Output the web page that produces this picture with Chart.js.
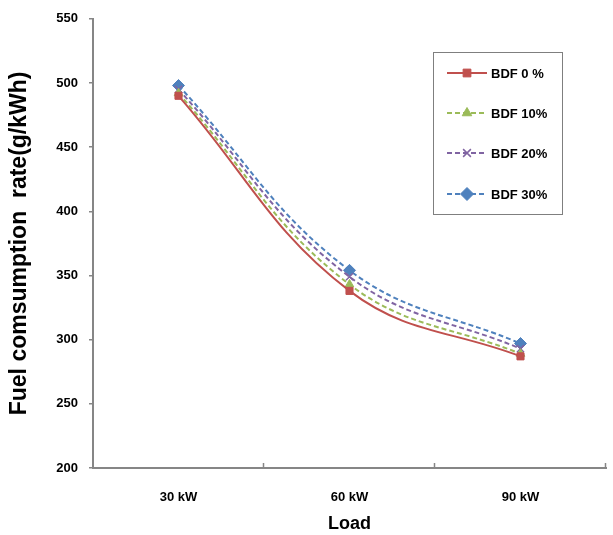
<!DOCTYPE html>
<html>
<head>
<meta charset="utf-8">
<script src="https://cdn.jsdelivr.net/npm/chart.js@4"></script>
<style>
  html, body { margin: 0; padding: 0; background: #fff; }
  #wrap { width: 613px; height: 535px; }
</style>
</head>
<body>
<div id="wrap"><canvas id="fuelChart" width="613" height="535"></canvas></div>
<script>
// Fuel consumption rate vs load for biodiesel blends
const loads = ["30 kW", "60 kW", "90 kW"];
const bdf0 = [490, 338, 287];
const bdf10 = [492, 343, 289];
const bdf20 = [495, 349, 293];
const bdf30 = [498, 354, 297];
const yTicks = [200, 250, 300, 350, 400, 450, 500, 550];

const FONT = "'Liberation Sans', Arial, sans-serif";
const AXIS = "#868686";

function series(label, data, color, style, dashed) {
  return {
    label: label,
    data: data,
    borderColor: color,
    backgroundColor: color,
    borderWidth: 2,
    borderDash: dashed ? [5, 3] : [],
    pointStyle: style,
    pointRadius: style === "rectRot" ? 6 : 5,
    pointBorderWidth: style === "crossRot" ? 1.5 : 1,
    pointBackgroundColor: color,
    pointBorderColor: color,
    tension: 0.4,
    fill: false,
  };
}

// legend box drawn inside plot area, Excel style
const boxLegend = {
  id: "boxLegend",
  afterDatasetsDraw(chart) {
    const ctx = chart.ctx;
    const x0 = 433, y0 = 52, w = 129, h = 162;
    ctx.save();
    ctx.fillStyle = "#fff";
    ctx.fillRect(x0, y0, w, h);
    ctx.strokeStyle = "#7f7f7f";
    ctx.lineWidth = 1;
    ctx.strokeRect(x0 + 0.5, y0 + 0.5, w, h);
    const rows = [73, 113, 153, 194];
    chart.data.datasets.forEach((ds, i) => {
      const y = rows[i];
      ctx.strokeStyle = ds.borderColor;
      ctx.lineWidth = 2;
      ctx.setLineDash(ds.borderDash);
      ctx.beginPath();
      ctx.moveTo(447, y);
      ctx.lineTo(487, y);
      ctx.stroke();
      ctx.setLineDash([]);
      ctx.fillStyle = ds.borderColor;
      ctx.strokeStyle = ds.borderColor;
      ctx.lineWidth = ds.pointBorderWidth;
      Chart.helpers.drawPoint(ctx, {
        pointStyle: ds.pointStyle,
        radius: ds.pointRadius + 0.5,
        rotation: 0,
        borderWidth: ds.pointBorderWidth,
      }, 467, y);
      ctx.fillStyle = "#000";
      ctx.font = "bold 13px " + FONT;
      ctx.textBaseline = "middle";
      ctx.fillText(ds.label, 491, y + 1);
    });
    ctx.restore();
  },
};

// inward tick marks on the category axis at category boundaries
const innerTicks = {
  id: "innerTicks",
  afterDraw(chart) {
    const xs = chart.scales.x;
    const ctx = chart.ctx;
    const step = (xs.right - xs.left) / loads.length;
    ctx.save();
    ctx.strokeStyle = AXIS;
    ctx.lineWidth = 1.5;
    for (let i = 1; i <= loads.length; i++) {
      const px = Math.round(xs.left + step * i) - 0.5;
      ctx.beginPath();
      ctx.moveTo(px, xs.top);
      ctx.lineTo(px, xs.top - 5);
      ctx.stroke();
    }
    ctx.restore();
  },
};

new Chart(document.getElementById("fuelChart"), {
  type: "line",
  data: {
    labels: loads,
    datasets: [
      series("BDF 0 %", bdf0, "#C0504D", "rect", false),
      series("BDF 10%", bdf10, "#9BBB59", "triangle", true),
      series("BDF 20%", bdf20, "#8064A2", "crossRot", true),
      series("BDF 30%", bdf30, "#4F81BD", "rectRot", true),
    ],
  },
  options: {
    responsive: false,
    animation: false,
    layout: { padding: { top: 14, right: 2, left: 6, bottom: 0 } },
    plugins: {
      legend: { display: false },
      tooltip: { enabled: false },
    },
    scales: {
      x: {
        offset: true,
        grid: { display: false },
        border: { color: AXIS, width: 2 },
        ticks: {
          color: "#000",
          font: { family: FONT, size: 13, weight: "bold" },
          padding: 14,
        },
        title: {
          display: true,
          text: "Load",
          color: "#000",
          font: { family: FONT, size: 18, weight: "bold" },
          padding: { top: 6, bottom: 0 },
        },
        afterFit(scale) {
          scale.height = 67;
        },
      },
      y: {
        min: 200,
        max: 550,
        afterBuildTicks(scale) {
          scale.ticks = yTicks.map((v) => ({ value: v }));
        },
        grid: {
          drawOnChartArea: false,
          drawTicks: true,
          tickLength: 4,
          color: AXIS,
          lineWidth: 1.5,
        },
        border: { color: AXIS, width: 2 },
        ticks: {
          color: "#000",
          font: { family: FONT, size: 13, weight: "bold" },
          padding: 11,
        },
        title: {
          display: true,
          text: "Fuel comsumption  rate(g/kWh)",
          color: "#000",
          font: { family: FONT, size: 23, weight: "bold" },
          padding: { top: 0, bottom: 10 },
        },
        afterFit(scale) {
          scale.width = 87;
        },
      },
    },
  },
  plugins: [boxLegend, innerTicks],
});
</script>
</body>
</html>
